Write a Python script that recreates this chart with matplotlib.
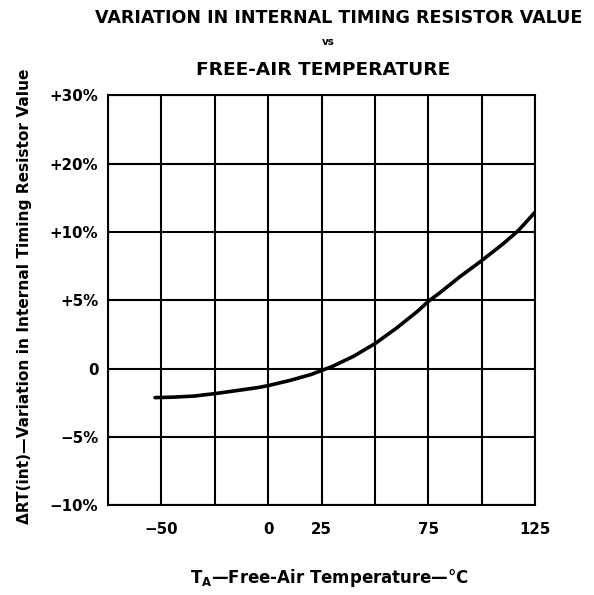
import numpy as np
import matplotlib
matplotlib.use('Agg')
import matplotlib.pyplot as plt

plt.rcParams['font.family'] = ['DejaVu Sans']
plt.rcParams['font.weight'] = 'bold'
plt.rcParams['mathtext.fontset'] = 'custom'
plt.rcParams['mathtext.rm'] = 'DejaVu Sans:bold'
plt.rcParams['mathtext.default'] = 'rm'

# curve
temp = [-53, -45, -35, -25, -15, -5, 0, 10, 20, 30, 40, 50, 60, 70, 75,
        80, 90, 100, 110, 117, 125]
delta = [-2.13, -2.1, -2.02, -1.84, -1.62, -1.4, -1.25, -0.88, -0.44, 0.15, 0.9,
         1.82, 2.95, 4.2, 4.92, 5.5, 6.75, 7.9, 9.13, 10.15, 12.9]

# y axis is not linear: labels are evenly spaced
y_ticks = [-10, -5, 0, 5, 10, 20, 30]
y_labels = ['\u221210%', '\u22125%', '0', '+5%', '+10%', '+20%', '+30%']
x_labels_at = [-50, 0, 25, 75, 125]
x_grid = np.arange(-75, 126, 25)

pos = np.arange(len(y_ticks))


def fwd(v):
    return np.interp(v, y_ticks, pos)


def inv(p):
    return np.interp(p, pos, y_ticks)


fig = plt.figure(figsize=(5.94, 5.95), dpi=100)
ax = fig.add_axes([0.182, 0.151, 0.719, 0.689])
ax.set_yscale('function', functions=(fwd, inv))

ax.plot(temp, delta, color='black', lw=2.6, solid_capstyle='round')

ax.set_xlim(-75, 125)
ax.set_ylim(-10, 30)

ax.set_xticks(x_grid, minor=True)
ax.set_xticks(x_labels_at)
ax.set_xticklabels(['\u221250', '0', '25', '75', '125'])
ax.set_yticks(y_ticks)
ax.set_yticklabels(y_labels)
ax.yaxis.set_minor_locator(matplotlib.ticker.NullLocator())

ax.grid(True, which='both', axis='x', color='black', lw=1.5)
ax.grid(True, which='major', axis='y', color='black', lw=1.5)
ax.tick_params(which='both', length=0, labelsize=10.8, pad=12)
ax.tick_params(axis='y', pad=7)
for s in ax.spines.values():
    s.set_linewidth(1.5)

fig.text(0.571, 0.970, 'VARIATION IN INTERNAL TIMING RESISTOR VALUE',
         ha='center', va='center', fontsize=12.6, fontweight='bold')
fig.text(0.553, 0.929, 'vs', ha='center', va='center', fontsize=7.5, fontweight='bold')
fig.text(0.544, 0.882, 'FREE-AIR TEMPERATURE', ha='center', va='center',
         fontsize=13.3, fontweight='bold')

fig.text(0.554, 0.029, r'$T_A$' + '\u2014Free-Air Temperature\u2014\u00b0C',
         ha='center', va='center', fontsize=12, fontweight='bold')
fig.text(0.042, 0.502, '\u0394RT(int)\u2014Variation in Internal Timing Resistor Value',
         ha='center', va='center', rotation=90, fontsize=11.1, fontweight='bold')

fig.savefig('out.png', dpi=100)
